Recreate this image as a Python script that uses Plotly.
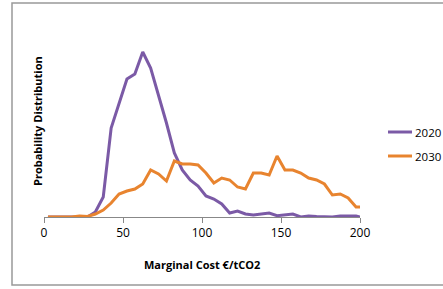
import plotly.graph_objects as go

cost = [2.5, 7.5, 12.5, 17.5, 22.5, 27.5, 32.5, 37.5, 42.5, 47.5,
        52.5, 57.5, 62.5, 67.5, 72.5, 77.5, 82.5, 87.5, 92.5, 97.5,
        102.5, 107.5, 112.5, 117.5, 122.5, 127.5, 132.5, 137.5, 142.5, 147.5,
        152.5, 157.5, 162.5, 167.5, 172.5, 177.5, 182.5, 187.5, 192.5, 197.5, 200]
p2020 = [0, 0, 0, 0, 0, 0, 5, 20, 89, 113,
         138, 143, 165, 149, 122, 94, 64, 47, 37, 31,
         21, 18, 13, 4, 6, 3, 2, 3, 4, 1.3,
         2, 3, 0, 1, 0.5, 0.5, 0, 1, 1, 1, 0]
p2030 = [0, 0, 0, 0, 1, 0.5, 3, 7, 14, 23,
         26, 28, 33, 47, 43, 36, 56, 53, 53, 52,
         44, 34, 39, 37, 30, 28, 44, 44, 42, 61,
         47, 47, 44, 39, 37, 33, 22, 23, 19, 10, 10]
xticks = [0, 50, 100, 150, 200]
series_names = ["2020", "2030"]
colors = ["#7B5AA6", "#E8842F"]

W, H = 443, 289
L, R, T, B = 44, 83, 25, 72
pw, ph = W - L - R, H - T - B

def px(x):
    return (x - L) / pw

def py(y):
    return (H - B - y) / ph

fig = go.Figure()
for name, vals, col in zip(series_names, [p2020, p2030], colors):
    fig.add_trace(go.Scatter(x=cost, y=vals, mode="lines", name=name,
                             line=dict(color=col, width=3)))

font = "Open Sans, Liberation Sans, sans-serif"
annotations = [
    dict(text="<b>Marginal Cost €/tCO2</b>", xref="paper", yref="paper",
         x=px(202), y=py(264), xanchor="center", yanchor="middle",
         showarrow=False, font=dict(size=11)),
    dict(text="<b>Probability Distribution</b>", xref="paper", yref="paper",
         x=px(37), y=py(121), xanchor="center", yanchor="middle",
         textangle=-90, showarrow=False, font=dict(size=11)),
]
shapes = [
    dict(type="rect", xref="paper", yref="paper",
         x0=px(12), x1=px(460), y0=py(285), y1=py(3),
         line=dict(color="#999", width=1.5), fillcolor="rgba(0,0,0,0)", layer="below"),
]
# manual legend
for i, (name, col) in enumerate(zip(series_names, colors)):
    yy = 132 + 24 * i
    shapes.append(dict(type="line", xref="paper", yref="paper",
                       x0=px(388), x1=px(412), y0=py(yy), y1=py(yy),
                       line=dict(color=col, width=3)))
    annotations.append(dict(text=name, xref="paper", yref="paper",
                            x=px(413), y=py(yy), xanchor="left", yanchor="middle",
                            showarrow=False, font=dict(size=11.5)))

fig.update_layout(
    width=W, height=H,
    margin=dict(l=L, r=R, t=T, b=B, autoexpand=False),
    paper_bgcolor="white", plot_bgcolor="white",
    font=dict(family=font, size=11, color="#000"),
    showlegend=False,
    xaxis=dict(range=[0, 200], tickvals=xticks, ticktext=[str(v) for v in xticks],
               showgrid=False, zeroline=False, showline=True, linecolor="#888",
               linewidth=1, ticks="outside", ticklen=5, tickcolor="#888",
               tickfont=dict(size=12), fixedrange=True),
    yaxis=dict(range=[0, ph], showticklabels=False, showgrid=False, zeroline=False,
               showline=False, ticks="", fixedrange=True),
    annotations=annotations,
    shapes=shapes,
)
fig.write_html("out.html", config={"displayModeBar": False},
               post_script="document.body.style.margin='0';document.body.style.overflow='hidden';")
